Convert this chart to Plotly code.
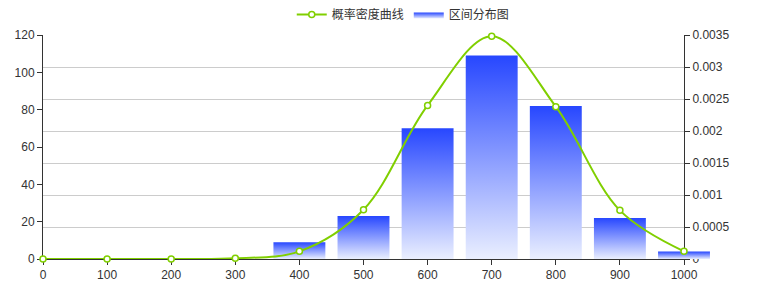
import plotly.graph_objects as go

# ---- data ----
density_x = [0, 100, 200, 300, 400, 500, 600, 700, 800, 900, 1000]
density_y = [0, 0, 0, 0.00001, 0.00012, 0.00077, 0.0024, 0.00348, 0.00238, 0.00076, 0.00012]
bar_x = [400, 500, 600, 700, 800, 900, 1000]
bar_y = [9, 23, 70, 109, 82, 22, 4]
line_name = "概率密度曲线"
bar_name = "区间分布图"

BAR_WIDTH = 81
W, H = 758, 305
L, R_AXIS, T, B = 43, 684, 35, 259
R_EXT = 720  # data subplot extends beyond right axis so last bar overflows

x_frac = (R_AXIS - L) / (R_EXT - L)
x2_max = 1000 / x_frac

LINE_COLOR = "#80cf00"
FONT = "Liberation Sans, Arial, Noto Sans CJK SC, sans-serif"

fig = go.Figure()

# invisible anchors so the visible axes (x, y, y2) get drawn
fig.add_trace(go.Scatter(x=bar_x, y=bar_y, xaxis="x", yaxis="y", mode="none",
                         showlegend=False, hoverinfo="skip"))
fig.add_trace(go.Scatter(x=density_x, y=density_y, xaxis="x", yaxis="y2",
                         mode="none", showlegend=False, hoverinfo="skip"))

for i, (cx, v) in enumerate(zip(bar_x, bar_y)):
    h = BAR_WIDTH / 2
    fig.add_trace(go.Scatter(
        x=[cx - h, cx + h, cx + h, cx - h, cx - h],
        y=[0, 0, v, v, 0],
        xaxis="x2", yaxis="y3",
        mode="lines", fill="toself",
        line=dict(width=0, color="#2a48ff"),
        fillgradient=dict(type="vertical",
                          colorscale=[[0, "#eaefff"], [1, "#2747ff"]]),
        name=bar_name, legendgroup="bar", showlegend=(i == 0),
        legendrank=2, hoverinfo="skip",
    ))

fig.add_trace(go.Scatter(
    x=density_x, y=density_y, xaxis="x2", yaxis="y4",
    mode="lines+markers", name=line_name, legendrank=1,
    line=dict(color=LINE_COLOR, width=2, shape="spline", smoothing=1.0),
    marker=dict(size=6, color="white", line=dict(color=LINE_COLOR, width=1.5)),
    cliponaxis=False,
))

axis_common = dict(showline=True, linecolor="#333", linewidth=1,
                   ticks="outside", ticklen=5, tickcolor="#333",
                   tickfont=dict(size=12, color="#333", family=FONT),
                   zeroline=False, fixedrange=True)

fig.update_layout(
    width=W, height=H,
    margin=dict(l=L, r=W - R_EXT, t=T, b=H - B, pad=0, autoexpand=False),
    paper_bgcolor="white", plot_bgcolor="rgba(0,0,0,0)",
    font=dict(family=FONT, size=12, color="#333"),
    xaxis=dict(domain=[0, x_frac], range=[0, 1000], tick0=0, dtick=100,
               showgrid=False, anchor="y", **axis_common),
    yaxis=dict(range=[0, 120], tick0=0, dtick=20, showgrid=False,
               anchor="x", **axis_common),
    yaxis2=dict(range=[0, 0.0035], tick0=0, dtick=0.0005, tickformat="~g",
                overlaying="y", side="right", anchor="x",
                showgrid=True, gridcolor="#cccccc", gridwidth=1,
                **axis_common),
    xaxis2=dict(domain=[0, 1], range=[0, x2_max], visible=False,
                showgrid=False, anchor="y3", fixedrange=True),
    yaxis3=dict(domain=[0, 1], range=[0, 120], visible=False,
                showgrid=False, anchor="x2", fixedrange=True),
    yaxis4=dict(range=[0, 0.0035], visible=False, showgrid=False,
                overlaying="y3", anchor="x2", fixedrange=True),
    legend=dict(orientation="h", xref="container", yref="container",
                x=0.532, xanchor="center", y=1.0, yanchor="top",
                font=dict(size=12, color="#333", family=FONT),
                bgcolor="rgba(0,0,0,0)", itemwidth=30),
    showlegend=True,
)

fig.write_html("out.html")
